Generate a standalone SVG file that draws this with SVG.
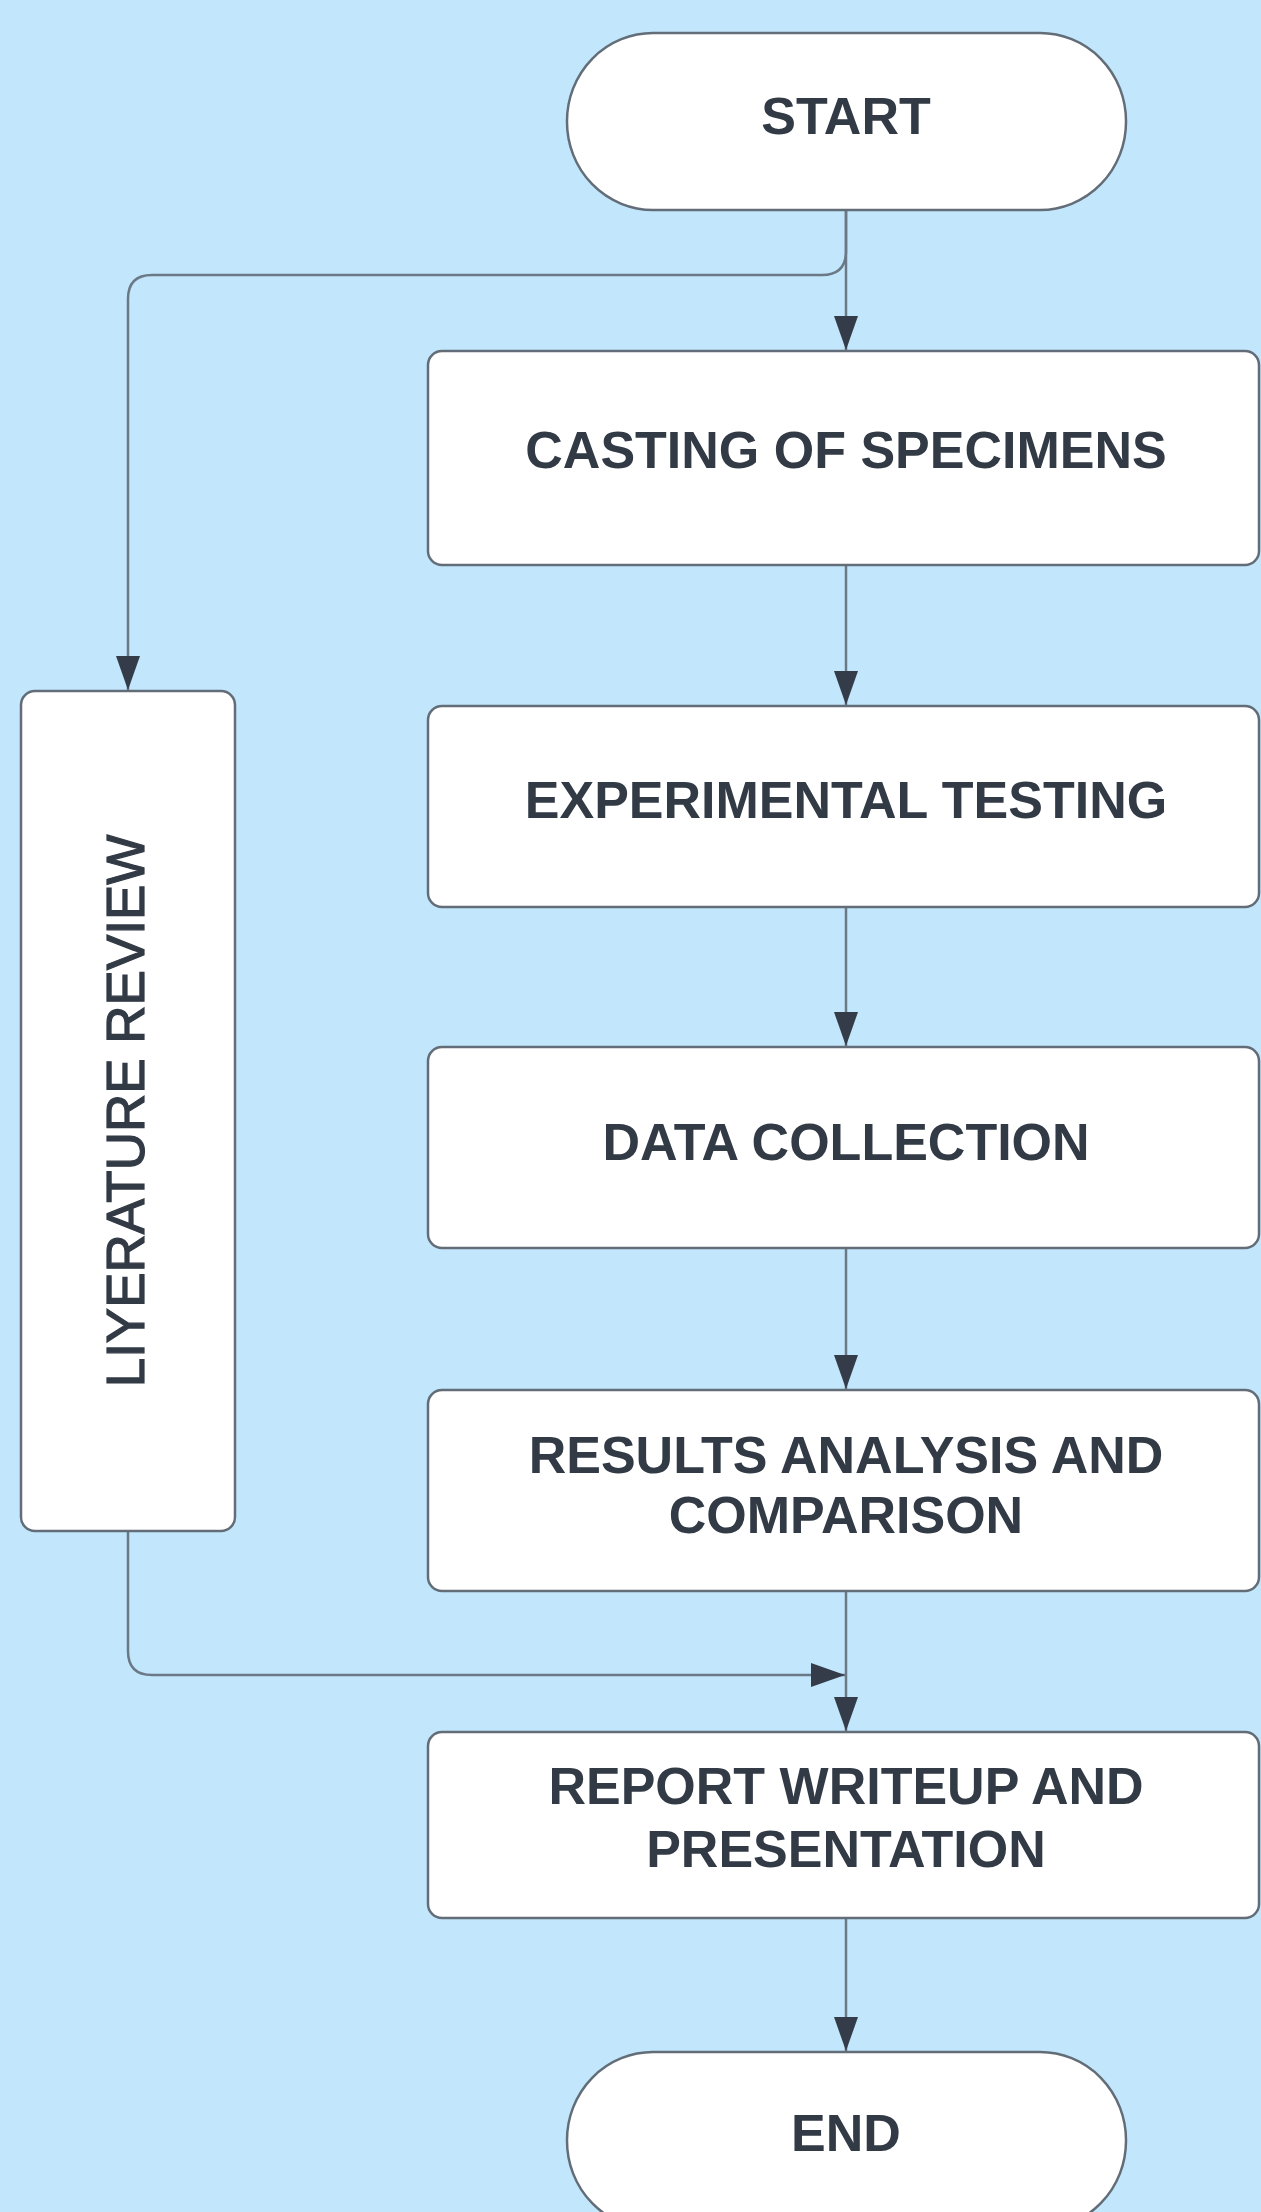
<svg xmlns="http://www.w3.org/2000/svg" width="1261" height="2212" viewBox="0 0 1261 2212">
<style>
.node{fill:#ffffff;stroke:#636d78;stroke-width:2.5}
.lbl{font-family:"Liberation Sans",Arial,sans-serif;font-weight:bold;font-size:52px;fill:#323a45;text-anchor:middle}
.vlbl{font-family:"Liberation Sans",Arial,sans-serif;font-weight:normal;font-size:53px;fill:#323a45;stroke:#323a45;stroke-width:1.2;text-anchor:middle}
.edge{fill:none;stroke:#6b7886;stroke-width:2.5}
</style>
<defs>
<marker id="arr" viewBox="0 0 34 24" refX="34" refY="12" markerWidth="34" markerHeight="24" markerUnits="userSpaceOnUse" orient="auto">
<path d="M0,0 L34,12 L0,24 Z" fill="#333c48"/>
</marker>
</defs>
<rect x="0" y="0" width="1261" height="2212" fill="#c2e6fc"/>
<g id="connectors">
<path class="edge" d="M846,210 L846,350" marker-end="url(#arr)"/>
<path class="edge" d="M846,210 L846,251 Q846,275 822,275 L152,275 Q128,275 128,299 L128,690" marker-end="url(#arr)"/>
<path class="edge" d="M846,565 L846,705" marker-end="url(#arr)"/>
<path class="edge" d="M846,907 L846,1046" marker-end="url(#arr)"/>
<path class="edge" d="M846,1248 L846,1389" marker-end="url(#arr)"/>
<path class="edge" d="M846,1591 L846,1731" marker-end="url(#arr)"/>
<path class="edge" d="M128,1531 L128,1651 Q128,1675 152,1675 L845,1675" marker-end="url(#arr)"/>
<path class="edge" d="M846,1918 L846,2051" marker-end="url(#arr)"/>
</g>
<g id="start">
<rect class="node" x="567" y="33" width="559" height="177" rx="86" ry="88"/>
<text class="lbl" x="846" y="134">START</text>
</g>
<g id="casting">
<rect class="node" x="428" y="351" width="831" height="214" rx="14"/>
<text class="lbl" x="846" y="468">CASTING OF SPECIMENS</text>
</g>
<g id="experimental">
<rect class="node" x="428" y="706" width="831" height="201" rx="14"/>
<text class="lbl" x="846" y="818">EXPERIMENTAL TESTING</text>
</g>
<g id="data">
<rect class="node" x="428" y="1047" width="831" height="201" rx="14"/>
<text class="lbl" x="846" y="1160">DATA COLLECTION</text>
</g>
<g id="results">
<rect class="node" x="428" y="1390" width="831" height="201" rx="14"/>
<text class="lbl" x="846" y="1473">RESULTS ANALYSIS AND</text>
<text class="lbl" x="846" y="1533">COMPARISON</text>
</g>
<g id="report">
<rect class="node" x="428" y="1732" width="831" height="186" rx="14"/>
<text class="lbl" x="846" y="1804">REPORT WRITEUP AND</text>
<text class="lbl" x="846" y="1867">PRESENTATION</text>
</g>
<g id="end">
<rect class="node" x="567" y="2052" width="559" height="177" rx="86" ry="88"/>
<text class="lbl" x="846" y="2151">END</text>
</g>
<g id="literature">
<rect class="node" x="21" y="691" width="214" height="840" rx="14"/>
<text class="vlbl" transform="translate(144,1111) rotate(-90)" x="0" y="0">LIYERATURE REVIEW</text>
</g>
</svg>
